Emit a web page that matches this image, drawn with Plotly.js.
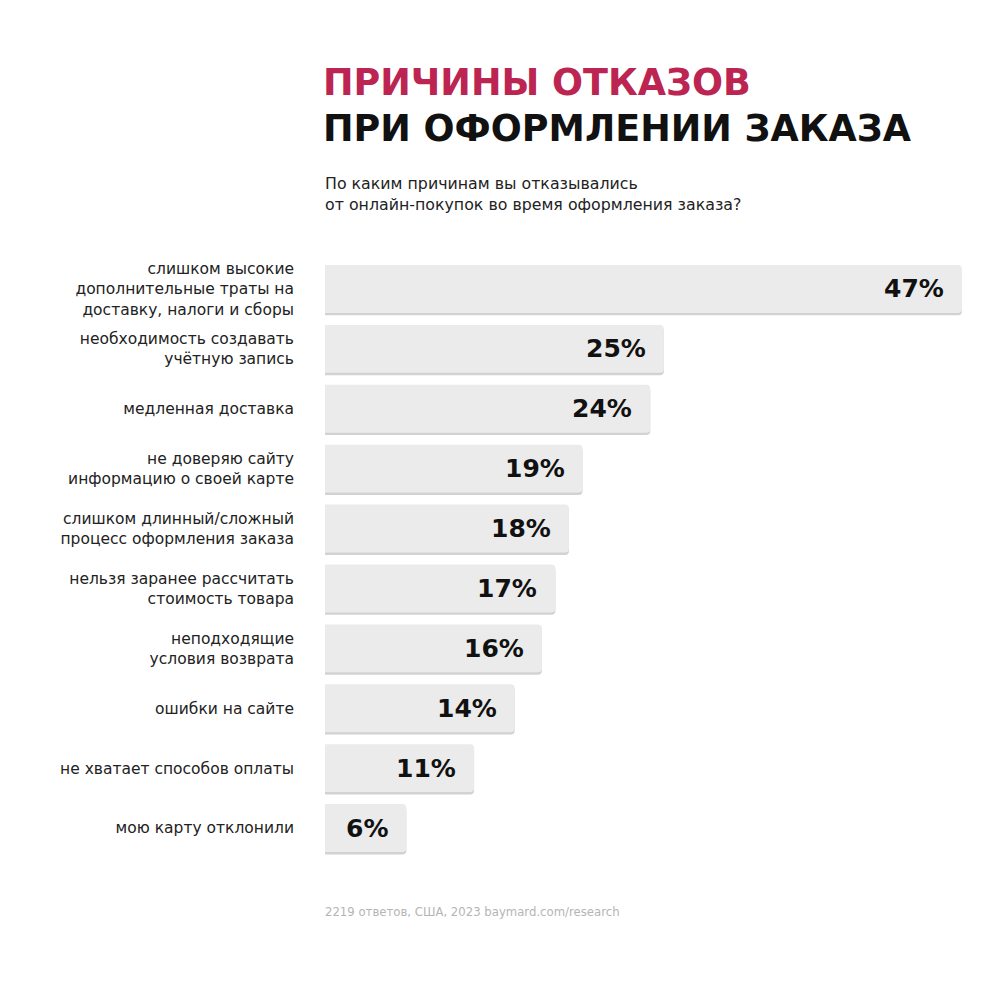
<!DOCTYPE html>
<html><head><meta charset="utf-8">
<script src="https://cdn.plot.ly/plotly-3.0.1.min.js"></script>
<style>html,body{margin:0;padding:0;background:#fff}#chart{width:1000px;height:981px}</style>
</head><body><div id="chart"></div>
<script>
const categories = [
  "слишком высокие<br>дополнительные траты на<br>доставку, налоги и сборы",
  "необходимость создавать<br>учётную запись",
  "медленная доставка",
  "не доверяю сайту<br>информацию о своей карте",
  "слишком длинный/сложный<br>процесс оформления заказа",
  "нельзя заранее рассчитать<br>стоимость товара",
  "неподходящие<br>условия возврата",
  "ошибки на сайте",
  "не хватает способов оплаты",
  "мою карту отклонили"
];
const values = [47, 25, 24, 19, 18, 17, 16, 14, 11, 6];
const valueLabels = values.map(v => v + "%");
const titleLine1 = "ПРИЧИНЫ ОТКАЗОВ";
const titleLine2 = "ПРИ ОФОРМЛЕНИИ ЗАКАЗА";
const subtitle = "По каким причинам вы отказывались<br>от онлайн-покупок во время оформления заказа?";
const footer = "2219 ответов, США, 2023 baymard.com/research";

const idx = values.map((_, i) => i);
const W = 0.8, L = 325, R = 962, T = 258.5, B = 858.5;
const px = x => (x - L) / (R - L);
const py = y => (B - y) / (B - T);

const shadow = {
  type: 'bar', orientation: 'h', x: values, y: idx,
  width: W, offset: -W/2 + 0.04,
  marker: {color: '#d2d2d2', cornerradius: 4},
  hoverinfo: 'skip', showlegend: false
};
const main = {
  type: 'bar', orientation: 'h', x: values, y: idx,
  width: W, offset: -W/2,
  marker: {color: '#ebebeb', cornerradius: 4},
  hoverinfo: 'skip', showlegend: false
};

const valueAnns = values.map((v, i) => ({
  x: v, y: i, xref: 'x', yref: 'y', text: valueLabels[i],
  showarrow: false, xanchor: 'right', xshift: -16, yshift: 0,
  font: {family: 'DejaVu Sans', size: 25, color: '#111', weight: 'bold'}
}));

const anns = valueAnns.concat([
  {x: px(321), y: py(82), xref: 'paper', yref: 'paper', xanchor: 'left', yanchor: 'middle', showarrow: false,
   text: '<b>' + titleLine1 + '</b>', font: {family: 'DejaVu Sans', size: 36.5, color: '#bc2552'}},
  {x: px(321), y: py(128), xref: 'paper', yref: 'paper', xanchor: 'left', yanchor: 'middle', showarrow: false,
   text: '<b>' + titleLine2 + '</b>', font: {family: 'DejaVu Sans', size: 36.5, color: '#111'}},
  {x: px(323), y: py(193), xref: 'paper', yref: 'paper', xanchor: 'left', yanchor: 'middle', showarrow: false, align: 'left',
   text: subtitle, font: {family: 'DejaVu Sans', size: 15.8, color: '#222'}},
  {x: px(323), y: py(913), xref: 'paper', yref: 'paper', xanchor: 'left', yanchor: 'middle', showarrow: false,
   text: footer, font: {family: 'DejaVu Sans', size: 11.7, color: '#b5b5b5'}}
]);

const layout = {
  width: 1000, height: 981,
  margin: {l: L, r: 1000 - R, t: T, b: 981 - B, pad: 0},
  paper_bgcolor: '#fff', plot_bgcolor: '#fff',
  barmode: 'overlay',
  xaxis: {range: [0, 47], visible: false, fixedrange: true},
  yaxis: {range: [9.5, -0.5], tickvals: idx, ticktext: categories, ticks: '',
          showgrid: false, zeroline: false, showline: false, ticklabelstandoff: 30,
          tickfont: {family: 'DejaVu Sans', size: 15.5, color: '#222'}, fixedrange: true},
  annotations: anns,
  showlegend: false
};
Plotly.newPlot('chart', [shadow, main], layout, {displayModeBar: false, staticPlot: true});
</script></body></html>
